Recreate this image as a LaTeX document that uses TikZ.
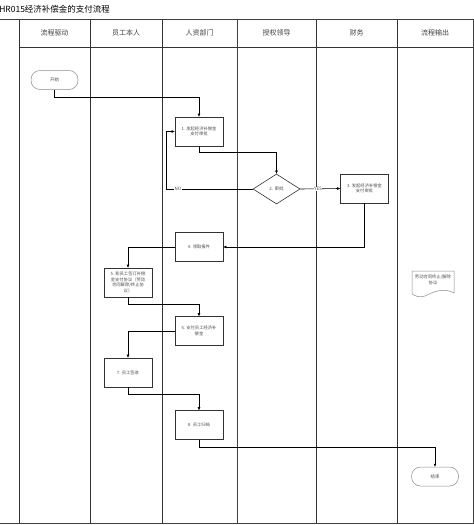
\documentclass[tikz,border=0pt]{standalone}
\usepackage{fontspec}
\setmainfont{Noto Sans CJK SC}
\usetikzlibrary{shapes.geometric,arrows.meta}

\begin{document}
\begin{tikzpicture}
[x=1pt, y=-1pt, draw=black, line width=0.5pt,
lane/.style={draw=black!80, line width=0.6pt},
frame/.style={draw=black!75, line width=1pt},
head/.style={font=\fontsize{7}{8}\selectfont, text=black!75},
task/.style={rectangle, draw=black!80, line width=0.6pt, minimum width=48pt, minimum height=29pt,
    align=center, inner sep=1pt, font=\fontsize{4.3}{5.6}\selectfont, text=black!70},
term/.style={rectangle, rounded corners=9pt, draw=black!45, minimum width=47pt, minimum height=19pt,
    inner sep=0pt, font=\fontsize{4.5}{5}\selectfont, text=black!70},
check/.style={diamond, draw=black!80, line width=0.6pt, aspect=1.6, minimum width=47pt, minimum height=30pt,
    inner sep=0pt, font=\fontsize{4.5}{5}\selectfont, text=black!70},
flow/.style={draw=black, line width=0.6pt, -{Triangle[length=3pt,width=2.4pt]}},
tag/.style={font=\fontsize{4.5}{5}\selectfont, fill=white, inner sep=0.5pt, text=black!70}]

\useasboundingbox (0,0) rectangle (474,525);

% title and frame
\node[anchor=west, inner sep=0pt, font=\fontsize{8.5}{9}\selectfont] (title) at (-1, 9) {HR015经济补偿金的支付流程};
\draw[frame] (0,19) -- (474,19);
\draw[frame] (0,523) -- (474,523);
\draw[lane] (19,47) -- (473,47);
\foreach \x in {19, 90, 162, 316, 397} {
    \draw[lane] (\x,19) -- (\x,523);
}
\draw[frame] (237,19) -- (237,523);
\draw[frame] (473,19) -- (473,523);

% lane headers
\foreach \x/\name in {54.5/流程驱动, 126/员工本人, 199.5/人资部门, 276.5/授权领导, 356.5/财务, 435/流程输出} {
    \node[head] at (\x, 33) {\name};
}

% steps
\node[term] (start) at (54.5, 80) {开始};
\node[task] (b1) at (199, 131.5) {1. 发起经济补偿金\\支付审批};
\node[check] (d2) at (276.5, 189) {2. 审批};
\node[task] (b3) at (364.5, 188.5) {3. 发起经济补偿金\\支付审批};
\node[task] (b4) at (199, 247) {4. 领取报件};
\node[task] (b5) at (128, 282.5) {5. 和员工签订补偿\\金支付协议（劳动\\合同解除/终止协\\议）};
\node[task] (b6) at (199, 331) {6. 支付员工经济补\\偿金};
\node[task] (b7) at (128, 372.5) {7. 员工签收};
\node[task] (b8) at (199, 425) {8. 员工归档};
\node[term] (end) at (435, 476.5) {结束};

% output document
\node[inner sep=0pt, align=center, font=\fontsize{4.3}{5.6}\selectfont, text=black!70]
    (doc) at (433, 280) {劳动合同终止/解除\\协议};
\draw[draw=black!45] (412,271) -- (454,271) -- (454,293)
    .. controls (444,287) and (433,292) .. (425,296)
    .. controls (420,298) and (415,296) .. (412,294) -- cycle;

% connectors
\draw[flow] (start.south) -- ++(0,8) -| (b1.north);
\draw[flow] (b1.south) -- ++(0,6) -| (d2.north);
\draw[flow] (d2.west) -- ++(-86,0) |- (b1.west);
\node[tag] (no) at (178, 189) {NO};
\draw[flow] (d2.east) -- (b3.west);
\node[tag] (yes) at (318, 189) {YES};
\draw[flow] (b3.south) |- (b4.east);
\draw[flow] (b4.west) -| (b5.north);
\draw[flow] (b5.south) -- ++(0,7) -| (b6.north);
\draw[flow] (b6.west) -| (b7.north);
\draw[flow] (b7.south) -- ++(0,7) -| (b8.north);
\draw[flow] (b8.south) -- ++(0,7) -| (end.north);

\end{tikzpicture}
\end{document}
